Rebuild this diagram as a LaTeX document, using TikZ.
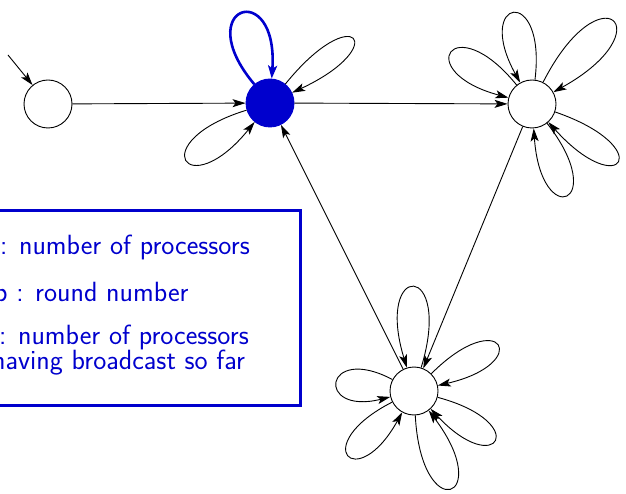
\documentclass[tikz,border=0pt]{standalone}
\usetikzlibrary{arrows.meta}
\definecolor{dblue}{RGB}{0,0,205}
\begin{document}
\begin{tikzpicture}[x=1pt,y=1pt,
  state/.style={circle,draw,line width=0.9pt,minimum size=48pt,inner sep=0pt},
  arr/.style={line width=0.9pt,-{Stealth[length=13pt,width=8pt,inset=3pt]}},
  bluearr/.style={line width=2.6pt,draw=dblue,-{Stealth[length=13pt,width=9pt,inset=3pt]}},
  txt/.style={anchor=base west,inner sep=0pt,text=dblue,font=\sffamily\fontsize{27.8}{29}\selectfont}]
\useasboundingbox (0,0) rectangle (626,493);
\clip (0,0) rectangle (626,493);
% nodes
\node[state] (A) at (48,389) {};
\node[state,fill=dblue,draw=dblue] (B) at (270,390) {};
\node[state] (C) at (532,389) {};
\node[state] (D) at (414,102) {};
\coordinate (s) at (8,438);
% edges
\draw[arr] (s) -- (A);
\draw[arr] (A) -- (B);
\draw[arr] (B) -- (C);
\draw[arr] (C) -- (D);
\draw[arr] (D) -- (B);
% loops on B
\draw[bluearr] (B) to[out=130,in=86,distance=102pt] (B);
\draw[arr] (B) to[out=51,in=25,distance=110pt] (B);
\draw[arr] (B) to[out=197,in=231,distance=108pt] (B);
% loops on C
\draw[arr] (C) to[out=83,in=119,distance=97pt] (C);
\draw[arr] (C) to[out=63,in=29,distance=128pt] (C);
\draw[arr] (C) to[out=129,in=165,distance=101pt] (C);
\draw[arr] (C) to[out=-19,in=-48,distance=109pt] (C);
\draw[arr] (C) to[out=-52,in=-86,distance=103pt] (C);
% loops on D
\draw[arr] (D) to[out=73,in=107,distance=112pt] (D);
\draw[arr] (D) to[out=45,in=13,distance=99pt] (D);
\draw[arr] (D) to[out=-15,in=-47,distance=98pt] (D);
\draw[arr] (D) to[out=-87,in=-53,distance=112pt] (D);
\draw[arr] (D) to[out=152,in=194,distance=78pt] (D);
\draw[arr] (D) to[out=207,in=241,distance=95pt] (D);
% legend box
\node[draw=dblue,line width=3pt,minimum width=310pt,minimum height=194pt,inner sep=0pt] (box) at (145,185) {};
\node[txt] (l1) at (0,238) {: number of processors};
\node[txt] (l2) at (-6,191) {p : round number};
\node[txt] (l3) at (-1,149) {: number of processors};
\node[txt] (l4) at (-8,124) {having broadcast so far};
\end{tikzpicture}
\end{document}
